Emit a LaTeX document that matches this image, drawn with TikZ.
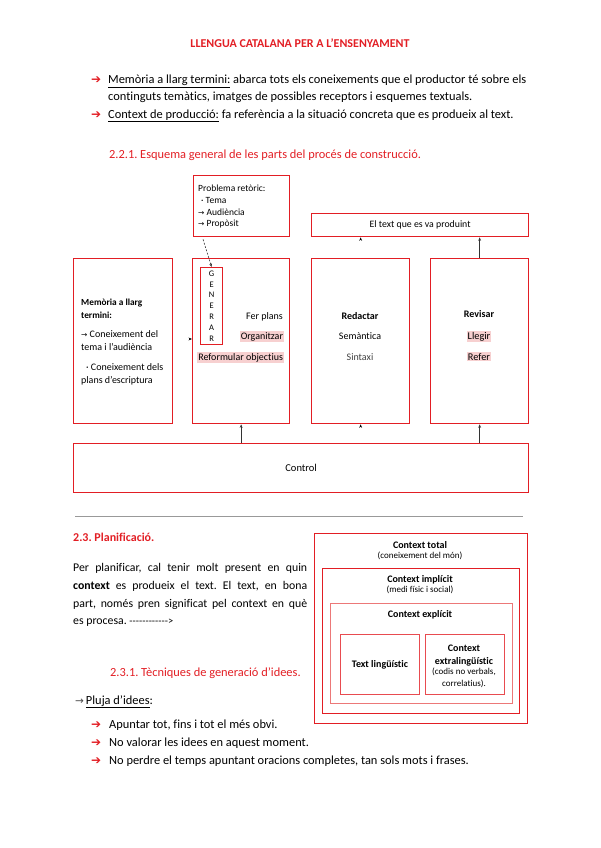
\documentclass[tikz,border=0pt]{standalone}
\usepackage{fontspec}
\setmainfont{Carlito}[Ligatures={TeX,NoCommon}]
\newfontfamily\djv{DejaVu Sans}
\newfontfamily\plainc{Carlito}[Ligatures=NoCommon]
\usetikzlibrary{arrows.meta}
\definecolor{myred}{RGB}{226,30,36}
\definecolor{lred}{RGB}{236,120,120}
\definecolor{hl}{RGB}{247,208,208}
\newcommand{\hlt}[1]{{\setlength{\fboxsep}{0.8pt}\colorbox{hl}{#1}}}
\newcommand{\rarr}{{\djv\bfseries\color{myred}\fontsize{12}{14}\selectfont ➔}}
\frenchspacing
\begin{document}
\begin{tikzpicture}[x=1pt,y=-1pt,
  redbox/.style={draw=myred, line width=1.3pt, inner sep=0pt, anchor=north west},
  body/.style={inner sep=0pt, anchor=base west, font=\fontsize{12.4}{14}\selectfont},
  small/.style={inner sep=0pt, font=\fontsize{9.5}{11}\selectfont},
  boxt/.style={inner sep=0pt, font=\fontsize{10}{12}\selectfont},
  ctxb/.style={inner sep=0pt, anchor=base, font=\fontsize{10}{12}\selectfont\bfseries},
  ctxs/.style={inner sep=0pt, anchor=base, font=\fontsize{9}{11}\selectfont},
  arr/.style={line width=0.6pt, black!80, -{Stealth[length=3.5pt,width=2.8pt]}},
  ghost/.style={line width=0.6pt, white, -{Stealth[length=3.5pt,width=2.8pt,black]}}
]
\useasboundingbox (0,0) rectangle (600,848);

% header
\node[inner sep=0pt, anchor=base, font=\fontsize{12}{14}\selectfont\bfseries, text=myred] (hdr) at (300,48) {LLENGUA CATALANA PER A L'ENSENYAMENT};

% top bullets
\node[body] (ar1) at (91,84) {\rarr};
\node[body] (l1) at (108,84) {\underline{Memòria a llarg termini:} abarca tots els coneixements que el productor té sobre els};
\node[body] (l2) at (108,101) {continguts temàtics, imatges de possibles receptors i esquemes textuals.};
\node[body] (ar2) at (91,118) {\rarr};
\node[body] (l3) at (108,118) {\underline{Context de producció:} fa referència a la situació concreta que es produeix al text.};

% section title
\node[body, text=myred] (s221) at (109,158) {2.2.1. Esquema general de les parts del procés de construcció.};

% diagram boxes
\node[redbox, minimum width=96, minimum height=61] (pr) at (193,175) {};
\node[small, anchor=base west] (pr1) at (198,191) {Problema retòric:};
\node[small, anchor=base west] (pr2) at (201,203) {· Tema};
\node[small, anchor=base west] (pr3) at (198,215) {{\djv\fontsize{7.5}{9}\selectfont →} Audiència};
\node[small, anchor=base west] (pr4) at (198,226) {{\djv\fontsize{7.5}{9}\selectfont →} Propòsit};

\node[redbox, minimum width=217, minimum height=23] (tb) at (311,213) {};
\node[small, font=\fontsize{9.8}{11}\selectfont] (tbt) at (tb.center) {El text que es va produint};

\node[redbox, minimum width=99, minimum height=165] (b1) at (73,258) {};
\node[redbox, minimum width=97, minimum height=165] (b2) at (192,258) {};
\node[redbox, minimum width=98, minimum height=165] (b3) at (311,258) {};
\node[redbox, minimum width=98, minimum height=165] (b4) at (430,258) {};
\node[redbox, minimum width=455, minimum height=49] (ctl) at (73,443) {};
\node[boxt, font=\fontsize{10.5}{12}\selectfont] (ctlt) at (ctl.center) {Control};

\node[redbox, line width=1.2pt, minimum width=22, minimum height=77] (gen) at (200,267) {};
\node[inner sep=0pt, align=center, font=\fontsize{8.5}{10.9}\selectfont] (gent) at (gen.center) {G\\E\\N\\E\\R\\A\\R};

% box 1 text
\node[boxt, anchor=base west, font=\fontsize{9.3}{11}\selectfont\bfseries] (m1) at (81,305) {Memòria a llarg};
\node[boxt, anchor=base west, font=\fontsize{9.3}{11}\selectfont\bfseries] (m2) at (81,318) {termini:};
\node[boxt, anchor=base west] (m3) at (81,337) {{\djv\fontsize{7.5}{9}\selectfont →} Coneixement del};
\node[boxt, anchor=base west] (m4) at (81,350) {tema i l'audiència};
\node[boxt, anchor=base west] (m5) at (86,370) {· Coneixement dels};
\node[boxt, anchor=base west] (m6) at (81,383) {plans d'escriptura};

% box 2 text
\node[boxt, anchor=base east] (f1) at (283,319) {Fer plans};
\node[boxt, anchor=base east] (f2) at (284,339) {\hlt{Organitzar}};
\node[boxt, anchor=base east] (f3) at (284,360) {\hlt{Reformular objectius}};

% box 3 text
\node[boxt, anchor=base, font=\fontsize{10}{12}\selectfont\bfseries] (r1) at (360,319) {Redactar};
\node[boxt, anchor=base] (r2) at (360,339) {Semàntica};
\node[boxt, anchor=base, text=black!75] (r3) at (360,360) {Sintaxi};

% box 4 text
\node[boxt, anchor=base, font=\fontsize{10}{12}\selectfont\bfseries] (v1) at (479,317) {Revisar};
\node[boxt, anchor=base, font=\fontsize{10.3}{12}\selectfont] (v2) at (479,339) {\hlt{Llegir}};
\node[boxt, anchor=base, font=\fontsize{10.3}{12}\selectfont] (v3) at (479,360) {\hlt{Refer}};

% connectors
\draw[arr, dashed, dash pattern=on 2pt off 1.5pt] ([xshift=10pt,yshift=-2pt]pr.south west) -- (gen.north);
\draw[arr] (b4.north) -- (b4.north |- tb.south);
\draw[ghost] (b3.north) -- (b3.north |- tb.south);
\draw[ghost] (b1.east |- 0,339) -- (b2.west |- 0,339);
\draw[arr] (b2.south |- ctl.north) -- (b2.south);
\draw[ghost] (b3.south |- ctl.north) -- (b3.south);
\draw[arr] (b4.south |- ctl.north) -- (b4.south);

% separator
\draw[black!40, line width=0.9pt] (75,516) -- (523,516);

% section 2.3
\node[body, font=\fontsize{12}{14}\selectfont\bfseries, text=myred] (s23) at (73,541) {2.3. Planificació.};
\node[body, font=\fontsize{11.8}{14}\selectfont] (p1) at (73,571) {\makebox[234pt][s]{Per planificar, cal tenir molt present en quin}};
\node[body, font=\fontsize{11.8}{14}\selectfont] (p2) at (73,589) {\makebox[234pt][s]{\textbf{context} es produeix el text. El text, en bona}};
\node[body, font=\fontsize{11.8}{14}\selectfont] (p3) at (73,607) {\makebox[234pt][s]{part, només pren significat pel context en què}};
\node[body, font=\fontsize{11.8}{14}\selectfont] (p4) at (73,624) {es procesa. {\plainc\fontsize{10.5}{12}\selectfont ------------>}};

% context boxes
\node[redbox, minimum width=213, minimum height=190] (c1) at (314,533) {};
\node[redbox, line width=1.2pt, minimum width=197, minimum height=145] (c2) at (322,568) {};
\node[redbox, draw=lred, line width=1.2pt, minimum width=182, minimum height=100] (c3) at (330,603) {};
\node[redbox, draw=myred!80, line width=1pt, minimum width=79, minimum height=60] (c4) at (340,634) {};
\node[redbox, draw=myred!80, line width=1pt, minimum width=79, minimum height=60] (c5) at (425,634) {};

\node[ctxb] (ct1) at (420,548) {Context total};
\node[ctxs] (ct2) at (420,558.5) {(coneixement del món)};
\node[ctxb] (ci1) at (420,582) {Context implícit};
\node[ctxs] (ci2) at (420,592.5) {(medi físic i social)};
\node[ctxb] (ce1) at (420,617) {Context explícit};
\node[ctxb, anchor=center] (tl) at (c4.center) {Text lingüístic};
\node[ctxb] (cx1) at (464,651) {Context};
\node[ctxb] (cx2) at (464,664) {extralingüístic};
\node[ctxs] (cx3) at (464,674.5) {(codis no verbals,};
\node[ctxs] (cx4) at (464,686) {correlatius).};

% 2.3.1
\node[body, text=myred] (s231) at (110,676) {2.3.1. Tècniques de generació d'idees.};
\node[body] (pl) at (75,704) {{\djv\color{black!70}\fontsize{10.5}{12}\selectfont →}\hspace{2pt}\underline{Pluja d'idees}:};
\node[body] (ar3) at (91,728) {\rarr};
\node[body] (b1t) at (109,728) {Apuntar tot, fins i tot el més obvi.};
\node[body] (ar4) at (91,746) {\rarr};
\node[body] (b2t) at (109,746) {No valorar les idees en aquest moment.};
\node[body] (ar5) at (91,764) {\rarr};
\node[body] (b3t) at (109,764) {No perdre el temps apuntant oracions completes, tan sols mots i frases.};
\end{tikzpicture}
\end{document}
